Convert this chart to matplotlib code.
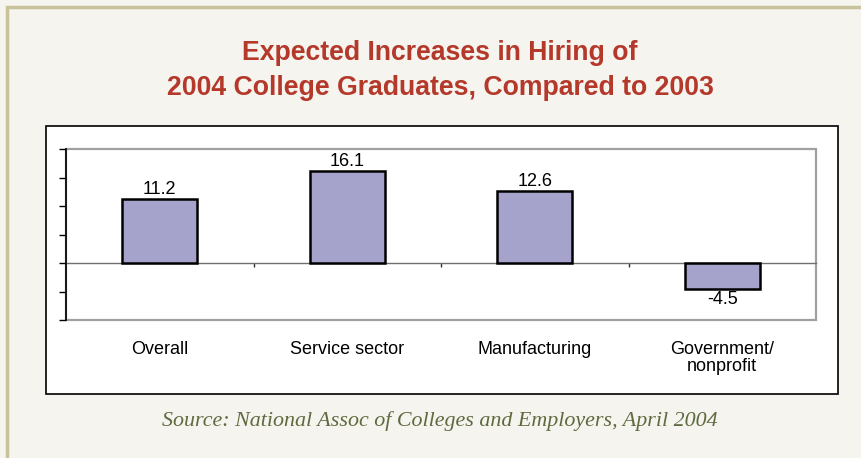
import matplotlib
matplotlib.use("Agg")
import matplotlib.pyplot as plt
from matplotlib.patches import Rectangle
import numpy as np

categories = ["Overall", "Service sector", "Manufacturing", "Government/\nnonprofit"]
increases = [11.2, 16.1, 12.6, -4.5]

W, H = 861, 458
fig = plt.figure(figsize=(W / 100, H / 100), dpi=100)
fig.patch.set_facecolor("#f5f4ef")


def fx(px):
    return px / W


def fy(py):
    return 1 - py / H


# tan frame and the white chart panel, kept behind the axes
fig.add_artist(Rectangle((fx(7), fy(470)), fx(870), 463 / H, transform=fig.transFigure,
                         facecolor="#f5f4ef", edgecolor="#c9c39c", lw=2.5, zorder=-2))
fig.add_artist(Rectangle((fx(46), fy(394)), fx(792), 268 / H, transform=fig.transFigure,
                         facecolor="white", edgecolor="black", lw=1.2, zorder=-1))

title_font = dict(fontsize=19.2, fontweight="bold", color="#b5392b", family="Liberation Sans")
fig.text(fx(440), fy(53), "Expected Increases in Hiring of", ha="center", va="center", **title_font)
fig.text(fx(440), fy(88), "2004 College Graduates, Compared to 2003", ha="center", va="center",
         **title_font)

ax = fig.add_axes([fx(66), fy(320), fx(750), 171 / H])
ax.set_facecolor("white")
x = np.arange(len(categories))
ax.bar(x, increases, width=0.4, color="#a5a2cc", edgecolor="black", linewidth=1.8, zorder=3)
ax.set_xlim(-0.5, len(categories) - 0.5)
ax.set_ylim(-10, 20)

# gray plot-area frame
ax.add_patch(Rectangle((0, 0), 1, 1, transform=ax.transAxes, fill=False,
                       edgecolor="#a0a0a0", lw=1.6, clip_on=False, zorder=1))
for side in ["top", "right"]:
    ax.spines[side].set_visible(False)
ax.spines["left"].set_color("black")
ax.spines["left"].set_linewidth(1.2)
ax.spines["left"].set_zorder(4)
ax.spines["bottom"].set_position(("data", 0))
ax.spines["bottom"].set_color("#707070")
ax.spines["bottom"].set_linewidth(1)

ax.set_yticks(np.arange(-10, 21, 5))
ax.set_yticklabels([])
ax.tick_params(axis="y", direction="out", length=5, width=1, color="black")
ax.set_xticks(x[:-1] + 0.5)
ax.set_xticklabels([])
ax.tick_params(axis="x", direction="out", length=3, width=1, color="#333333")

lab_font = dict(family="Liberation Sans", fontsize=13, color="black")
for xi, v in zip(x, increases):
    if v >= 0:
        ax.annotate(f"{v}", (xi, v), xytext=(0, 1), textcoords="offset points",
                    ha="center", va="bottom", **lab_font)
    else:
        ax.annotate(f"{v}", (xi, v), xytext=(0, -2), textcoords="offset points",
                    ha="center", va="top", **lab_font)

for xi, name in zip(x, categories):
    ax.text(xi, -0.12, name, transform=ax.get_xaxis_transform(), ha="center", va="top",
            linespacing=1.05, **lab_font)

fig.text(fx(440), fy(421), "Source: National Assoc of Colleges and Employers, April 2004",
         ha="center", va="center", fontsize=15.8, style="italic", color="#5f6b3f",
         family="Liberation Serif")

fig.savefig("out.png", dpi=100, facecolor=fig.get_facecolor())
